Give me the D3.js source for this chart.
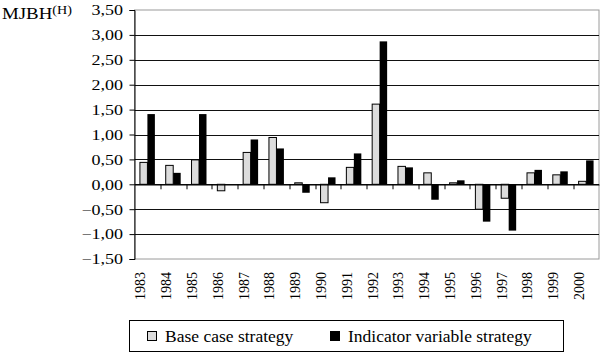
<!DOCTYPE html>
<html>
<head>
<meta charset="utf-8">
<script src="https://cdn.jsdelivr.net/npm/d3@7"></script>
<style>
  body { margin: 0; background: #fff; }
  text { font-family: "Liberation Serif", "Times New Roman", serif; fill: #000; }
</style>
</head>
<body>
<div id="chart" style="width:600px;height:353px"></div>
<script>
// chart data
let years = ["1983","1984","1985","1986","1987","1988","1989","1990","1991",
             "1992","1993","1994","1995","1996","1997","1998","1999","2000"];
let baseCase = [0.44, 0.38, 0.49, -0.13, 0.64, 0.94, 0.03, -0.37, 0.34,
                1.61, 0.36, 0.23, 0.03, -0.50, -0.28, 0.23, 0.19, 0.06];
let indicator = [1.41, 0.23, 1.41, 0.00, 0.90, 0.72, -0.17, 0.14, 0.62,
                 2.87, 0.34, -0.31, 0.08, -0.75, -0.93, 0.29, 0.26, 0.48];
let yTicks = [-1.5, -1.0, -0.5, 0, 0.5, 1.0, 1.5, 2.0, 2.5, 3.0, 3.5];
let seriesNames = ["Base case strategy", "Indicator variable strategy"];
let seriesColors = ["#dcdcdc", "#000000"];

let margin = {top: 10, right: 1, bottom: 94, left: 134.5};
let width = 600 - margin.left - margin.right;
let height = 353 - margin.top - margin.bottom;

let svg = d3.select("#chart").append("svg")
    .attr("width", 600)
    .attr("height", 353);

let g = svg.append("g")
    .attr("transform", "translate(" + margin.left + "," + margin.top + ")");

let x = d3.scaleBand().domain(years).range([0, width]).paddingInner(0.42).paddingOuter(0.21);
let xSub = d3.scaleBand().domain([0, 1]).range([0, x.bandwidth()]);
let y = d3.scaleLinear().domain([-1.5, 3.5]).range([height, 0]);

let fmt = d => d3.format(".2f")(d).replace(".", ",");

// plot border
g.append("rect")
    .attr("x", 0).attr("y", 0)
    .attr("width", width).attr("height", height)
    .attr("fill", "none")
    .attr("stroke", "#9a9a9a");

// gridlines
g.selectAll(".grid")
    .data(yTicks.filter(d => d > -1.5 && d < 3.5))
    .enter().append("line")
    .attr("class", "grid")
    .attr("x1", 0).attr("x2", width)
    .attr("y1", d => Math.round(y(d)) + 0.5)
    .attr("y2", d => Math.round(y(d)) + 0.5)
    .attr("stroke", "#111");

// y axis
let yAxis = g.append("g")
    .call(d3.axisLeft(y).tickValues(yTicks).tickFormat(fmt).tickSize(5));
yAxis.select(".domain").attr("stroke", "#000");
yAxis.selectAll("text")
    .attr("x", 0)
    .attr("transform", "translate(-11.5,0) scale(1.2,1)")
    .style("font-size", "15px")
    .style("font-family", "'Liberation Serif', serif");

// bars
let groups = g.selectAll(".year")
    .data(years)
    .enter().append("g")
    .attr("class", "year")
    .attr("transform", d => "translate(" + x(d) + ",0)");

groups.append("rect")
    .attr("x", (d, i) => xSub(0))
    .attr("y", (d, i) => y(Math.max(0, baseCase[i])))
    .attr("width", xSub.bandwidth())
    .attr("height", (d, i) => Math.abs(y(baseCase[i]) - y(0)))
    .attr("fill", seriesColors[0])
    .attr("stroke", "#000")
    .attr("stroke-width", 1);

groups.append("rect")
    .attr("x", (d, i) => xSub(1))
    .attr("y", (d, i) => y(Math.max(0, indicator[i])))
    .attr("width", xSub.bandwidth())
    .attr("height", (d, i) => Math.abs(y(indicator[i]) - y(0)))
    .attr("fill", seriesColors[1]);

// category axis on zero line
let xAxis = g.append("g")
    .attr("transform", "translate(0," + (Math.round(y(0)) + 0.5) + ")")
    .call(d3.axisBottom(x).tickSize(0).tickFormat(""));
xAxis.select(".domain").attr("stroke", "#000");
xAxis.selectAll(".tick").remove();

// category ticks between bands
g.selectAll(".ctick")
    .data(years.slice(1))
    .enter().append("line")
    .attr("class", "ctick")
    .attr("x1", d => Math.round(x(d) - x.step() * x.paddingInner() / 2) + 0.5)
    .attr("x2", d => Math.round(x(d) - x.step() * x.paddingInner() / 2) + 0.5)
    .attr("y1", y(0))
    .attr("y2", y(0) + 5)
    .attr("stroke", "#000");

// year labels, rotated
svg.selectAll(".ylab")
    .data(years)
    .enter().append("text")
    .attr("class", "ylab")
    .attr("transform", d => "translate(" + (margin.left + x(d) + x.bandwidth() / 2 - 2) + "," + 272 + ") rotate(-90)")
    .attr("text-anchor", "end")
    .style("font-size", "14px")
    .text(d => d);

// unit label
let unit = svg.append("text")
    .attr("x", 0).attr("y", 0)
    .attr("transform", "translate(2,19) scale(1.18,1)")
    .style("font-size", "16px");
unit.append("tspan").text("MJBH");
unit.append("tspan").attr("dy", -5).style("font-size", "12px").text("(H)");

// legend
let legend = svg.append("g");
legend.append("rect")
    .attr("x", 129.5).attr("y", 320.5)
    .attr("width", 434).attr("height", 31)
    .attr("fill", "#fff")
    .attr("stroke", "#000");

let legendX = [147, 330];
let items = legend.selectAll(".leg")
    .data(seriesNames)
    .enter().append("g")
    .attr("class", "leg");

items.append("rect")
    .attr("x", (d, i) => legendX[i] + 0.5)
    .attr("y", 331.5)
    .attr("width", 9).attr("height", 9)
    .attr("fill", (d, i) => seriesColors[i])
    .attr("stroke", "#000");

items.append("text")
    .attr("x", (d, i) => legendX[i] + 18)
    .attr("y", 342)
    .style("font-size", "17.5px")
    .text(d => d);
</script>
</body>
</html>
